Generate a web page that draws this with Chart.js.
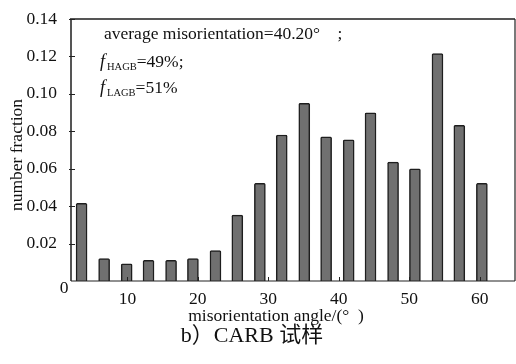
<!DOCTYPE html>
<html>
<head>
<meta charset="utf-8">
<script src="https://cdn.jsdelivr.net/npm/chart.js@4"></script>
<style>
  html, body { margin: 0; padding: 0; background: #fff; }
  #wrap { width: 516px; height: 364px; position: relative; }
</style>
</head>
<body>
<div id="wrap"><canvas id="misChart" width="516" height="364"></canvas></div>
<script>
// misorientation histogram, CARB sample
const angles = [3.5, 6.7, 9.9, 13.0, 16.2, 19.3, 22.5, 25.6, 28.8, 31.9, 35.1, 38.2, 41.4, 44.5, 47.7, 50.8, 54.0, 57.1, 60.3];
const fractions = [0.0415, 0.012, 0.0092, 0.011, 0.011, 0.012, 0.0163, 0.0352, 0.0522, 0.078, 0.095, 0.077, 0.0755, 0.0898, 0.0635, 0.060, 0.1215, 0.0832, 0.0522];
const xTicks = [10, 20, 30, 40, 50, 60];
const yTicks = [0.02, 0.04, 0.06, 0.08, 0.10, 0.12, 0.14];

const SERIF = '"Liberation Serif", "DejaVu Serif", serif';

const framePlugin = {
  id: 'frame',
  afterDraw(chart) {
    const ctx = chart.ctx;
    const a = chart.chartArea;
    const xs = chart.scales.x, ys = chart.scales.y;
    ctx.save();
    // box
    ctx.strokeStyle = '#555';
    ctx.lineWidth = 2;
    ctx.beginPath();
    ctx.moveTo(a.left, a.bottom);
    ctx.lineTo(a.left, a.top);
    ctx.lineTo(a.right, a.top);
    ctx.stroke();
    ctx.strokeStyle = '#222';
    ctx.lineWidth = 1.2;
    ctx.beginPath();
    ctx.moveTo(a.right, a.top);
    ctx.lineTo(a.right, a.bottom);
    ctx.moveTo(a.left, a.bottom);
    ctx.lineTo(a.right, a.bottom);
    ctx.stroke();
    // inward ticks
    ctx.lineWidth = 1;
    ctx.beginPath();
    xTicks.forEach(v => {
      const px = Math.round(xs.getPixelForValue(v)) + 0.5;
      ctx.moveTo(px, a.bottom);
      ctx.lineTo(px, a.bottom - 4);
    });
    yTicks.forEach(v => {
      const py = Math.round(ys.getPixelForValue(v)) + 0.5;
      ctx.moveTo(a.left - 2, py);
      ctx.lineTo(a.left + 4, py);
    });
    ctx.stroke();

    ctx.fillStyle = '#111';
    ctx.textBaseline = 'middle';
    ctx.textAlign = 'center';
    ctx.font = '17.5px ' + SERIF;
    ctx.fillText('0', 64, 288);

    // axis titles
    ctx.fillText('misorientation angle/(°\u2002)', 276, 316);
    ctx.save();
    ctx.translate(17, 155);
    ctx.rotate(-Math.PI / 2);
    ctx.fillText('number fraction', 0, 0);
    ctx.restore();

    // caption
    ctx.font = '22px ' + SERIF + ', "Noto Sans CJK SC"';
    ctx.fillText('b）CARB 试样', 252, 336);

    // annotation
    ctx.textAlign = 'left';
    ctx.font = '17.5px ' + SERIF;
    ctx.fillText('average misorientation=40.20°\u2003;', 104, 34);
    const fLine = (x, y, sub, rest) => {
      ctx.font = 'italic 18px ' + SERIF;
      ctx.fillText('f', x, y);
      ctx.font = '10.5px ' + SERIF;
      ctx.fillText(sub, x + 7, y + 5);
      const w = ctx.measureText(sub).width;
      ctx.font = '17.5px ' + SERIF;
      ctx.fillText(rest, x + 7 + w, y);
    };
    fLine(100, 62, 'HAGB', '=49%;');
    fLine(100, 88, 'LAGB', '=51%');
    ctx.restore();
  }
};

new Chart(document.getElementById('misChart'), {
  type: 'bar',
  data: {
    datasets: [{
      data: angles.map((a, i) => ({ x: a, y: fractions[i] })),
      backgroundColor: '#707070',
      borderColor: '#1e1e1e',
      borderWidth: 1.5,
      borderRadius: 1.5,
      borderSkipped: 'bottom',
      barThickness: 11
    }]
  },
  options: {
    responsive: false,
    animation: false,
    layout: { padding: { top: 19, right: 1, left: 0, bottom: 0 } },
    plugins: { legend: { display: false }, tooltip: { enabled: false } },
    scales: {
      x: {
        type: 'linear',
        offset: false,
        min: 2,
        max: 65,
        afterBuildTicks: s => { s.ticks = xTicks.map(v => ({ value: v })); },
        afterFit: s => { s.height = 83; },
        grid: { display: false, offset: false },
        border: { display: false },
        ticks: { color: '#111', padding: 0, font: { family: SERIF, size: 17.5 }, maxRotation: 0 }
      },
      y: {
        min: 0,
        max: 0.14,
        afterBuildTicks: s => { s.ticks = yTicks.map(v => ({ value: v })); },
        afterFit: s => { s.width = 71; },
        grid: { display: false },
        border: { display: false },
        ticks: {
          color: '#111',
          padding: 6,
          font: { family: SERIF, size: 17.5 },
          callback: v => v.toFixed(2)
        }
      }
    }
  },
  plugins: [framePlugin]
});
</script>
</body>
</html>
